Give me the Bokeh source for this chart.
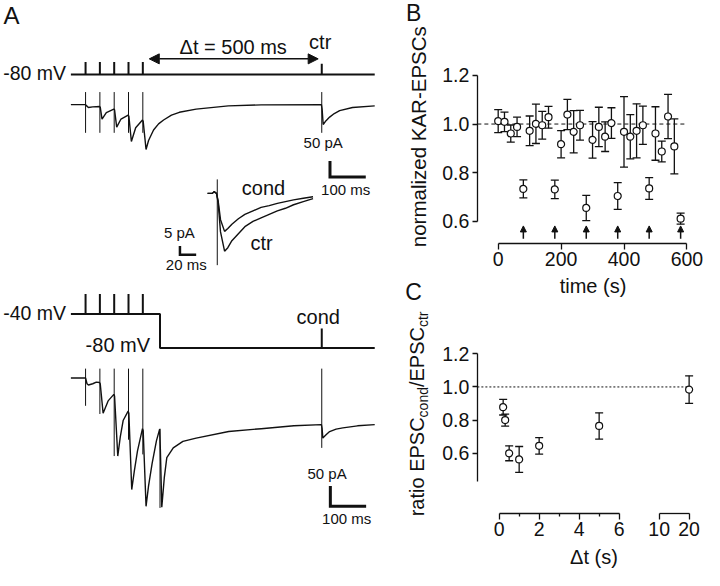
import math
from bokeh.plotting import figure
from bokeh.models import (Range1d, ColumnDataSource, Whisker, TeeHead, Arrow, NormalHead,
                          Label, LinearAxis, FixedTicker, NumeralTickFormatter)
from bokeh.layouts import row, column
from bokeh.embed import file_html
from bokeh.resources import INLINE

# ======================= DATA =======================
# Panel A - stimulation protocol (ms, first pulse of the train = 0)
train_times = [0, 40, 80, 120, 160]
delta_t = 500
test_time = train_times[-1] + delta_t          # ctr / cond test pulse
step_end = 208                                  # end of the -40 mV conditioning step
v_hold = -80
v_cond = -40
trace_start, trace_end = -41, 808

# Panel A - control recording (-80 mV throughout), pA
trace_ctr_t = [-41, 0, 3, 8, 20, 39, 41, 46, 58, 79, 81, 87, 99, 119, 121, 128, 140, 159, 161, 169,
               176, 190, 204, 218, 240, 262, 309, 399, 491, 659, 661, 664, 672, 682, 695, 710, 746, 808]
trace_ctr_i = [0, 0, -4, -9, -7, -6, -8, -45, -25, -14, -16, -70, -45, -33, -36, -115, -72, -48, -52, -140,
               -112, -79, -60, -48, -33, -24, -14, -4, -1, 0, -15, -62, -50, -39, -28, -19, -9, -4]
ctr_artifact_t = train_times + [test_time]
ctr_artifact_top = [39] * 6
ctr_artifact_bottom = [-88] * 6

# Panel A - conditioning recording (train at -40 mV), pA
trace_cond_t = [-41, 0, 4, 8, 20, 30, 39, 41, 49, 63, 79, 81, 90, 97, 105, 119, 121, 129, 136, 145,
                159, 161, 169, 176, 186, 198, 207, 209, 213, 220, 227, 245, 272, 309, 400, 491, 582,
                659, 661, 663, 672, 682, 700, 719, 760, 808]
trace_cond_i = [114, 114, 100, 97, 100, 104, 103, 100, 28, 58, 74, 70, -77, -30, 10, 33, 28, -159, -115, -65,
                -10, -15, -200, -150, -95, -40, -11, -60, -202, -130, -81, -57, -41, -33, -17, -10, -3,
                0, -10, -33, -25, -17, -11, -8, -3, 0]
cond_artifact_t = train_times + [step_end, test_time]
cond_artifact_top = [137, 137, 137, 137, 137, -10, 137]
cond_artifact_bottom = [46, 26, -77, -37, -73, -204, -57]

# Panel A inset - test EPSCs superimposed (ms from test pulse, pA)
inset_t = [-12, -6, -4, -1, 1, 4, 9, 13, 18, 26, 34, 44, 54, 64, 74, 84, 94, 106, 118]
inset_ctr_i = [0, 0, 1, 0, -5, -22, -33, -31, -27, -23, -19, -16, -14, -12, -10, -8.5, -6.5, -4.7, -3]
inset_cond_i = [0, 0, 1, 0, -4, -15, -21.7, -20, -17.6, -14.5, -12, -10, -8, -7, -5.7, -4.7, -3.7, -2.8, -1.9]
inset_artifact = (8, -41)

# Panel B - normalized KAR-EPSCs vs time (s)
b_time = [0, 20, 40, 60, 100, 120, 140, 160, 200, 220, 240, 260, 300, 320, 340, 360,
          400, 420, 440, 460, 500, 520, 540, 560]
b_norm = [1.012, 1.009, 0.961, 0.988, 0.972, 1.001, 0.995, 1.028, 0.917, 1.039, 0.968, 0.995,
          0.935, 0.988, 0.948, 1.004, 0.968, 0.948, 0.972, 0.995, 0.961, 0.887, 1.031, 0.908]
b_sem = [0.047, 0.040, 0.035, 0.040, 0.061, 0.081, 0.057, 0.045, 0.056, 0.062, 0.087, 0.061,
         0.075, 0.081, 0.061, 0.063, 0.145, 0.091, 0.111, 0.079, 0.110, 0.043, 0.091, 0.113]
b_cond_time = [80, 180, 280, 380, 480, 580]
b_cond_norm = [0.733, 0.731, 0.655, 0.704, 0.735, 0.611]
b_cond_sem = [0.037, 0.038, 0.052, 0.055, 0.045, 0.023]
b_xticks = [0, 200, 400, 600]
b_yticks = [0.6, 0.8, 1.0, 1.2]

# Panel C - ratio EPSCcond/EPSCctr vs delta t (s)
c_dt = [0.2, 0.3, 0.5, 1.0, 2.0, 5.0, 20.0]
c_ratio = [0.878, 0.800, 0.600, 0.563, 0.645, 0.765, 0.984]
c_sem = [0.047, 0.036, 0.045, 0.078, 0.050, 0.079, 0.083]
c_xticks = [0, 2, 4, 6]
c_xminor = [1, 3, 5]
c_break_ticks = [10, 20]
c_yticks = [0.6, 0.8, 1.0, 1.2]

# ======================= LAYOUT =======================
INK = "#111111"
FONT = "Liberation Sans"
SX, SY = 704 / 720, 570 / 586
W_A = round(400 * SX)
W_R = 704 - W_A
H_B = round(314.5 * SY)
H_C = 570 - H_B


def cal_range(p_lo, p_hi, px0, v0, k):
    return Range1d(v0 + (p_lo - px0) / k, v0 + (p_hi - px0) / k)


def cal_val(px, px0, v0, k):
    return v0 + (px - px0) / k


def lbl(p, x, y, text, size, align="center", baseline="middle", angle=0.0, xr="default", yr="default"):
    p.add_layout(Label(x=x, y=y, text=text, x_range_name=xr, y_range_name=yr,
                       text_font=FONT, text_font_size=f"{size}px", text_color=INK,
                       text_align=align, text_baseline=baseline, angle=angle))


def panel(width, height, ox, oy, xcal, ycal):
    L, R = ox, ox + width / SX
    T, B = oy, oy + height / SY
    p = figure(width=width, height=height, x_range=cal_range(L, R, *xcal),
               y_range=cal_range(B, T, *ycal), output_backend="svg", toolbar_location=None,
               x_axis_location=None, y_axis_location=None, min_border=0,
               outline_line_color=None)
    p.extra_x_ranges = {"px": Range1d(L, R)}
    p.extra_y_ranges = {"px": Range1d(B, T)}
    p.grid.visible = False
    return p


def make_axis(fixed, bounds, ticks, minor=(), tick_out=5, standoff=3, fmt=None):
    ax = LinearAxis(fixed_location=fixed)
    ax.bounds = bounds
    ax.ticker = FixedTicker(ticks=list(ticks), minor_ticks=list(minor))
    ax.axis_line_color = INK
    ax.axis_line_width = 1.3
    ax.major_tick_line_color = INK
    ax.major_tick_line_width = 1.3
    ax.major_tick_out = tick_out
    ax.major_tick_in = 0
    ax.minor_tick_line_color = INK if minor else None
    ax.minor_tick_line_width = 1.3
    ax.minor_tick_out = 3
    ax.minor_tick_in = 0
    ax.major_label_text_font = FONT
    ax.major_label_text_font_size = "19.5px"
    ax.major_label_text_color = INK
    ax.major_label_standoff = standoff
    if fmt is not None:
        ax.formatter = fmt
    return ax


# ----------------------- Panel A -----------------------
A_REF_W, A_REF_H = W_A / SX, 570 / SY
pa = figure(width=W_A, height=570, x_range=Range1d(0, A_REF_W), y_range=Range1d(A_REF_H, 0),
            x_axis_location=None, y_axis_location=None, toolbar_location=None,
            output_backend="svg", min_border=0, outline_line_color=None)
pa.grid.visible = False
pa.extra_x_ranges = {"t": cal_range(0, A_REF_W, 87, 0, 0.366),
                     "ti": cal_range(0, A_REF_W, 221.7, 0, 0.83)}
pa.extra_y_ranges = {"Itop": cal_range(A_REF_H, 0, 107, 0, -0.33),
                     "Ibot": cal_range(A_REF_H, 0, 436, 0, -0.42),
                     "Iin": cal_range(A_REF_H, 0, 198.3, 0, -1.8),
                     "Vtop": cal_range(A_REF_H, 0, 76, -80, -0.875),
                     "Vbot": cal_range(A_REF_H, 0, 357.3, -80, -0.875)}

# top protocol
pa.line([trace_start, trace_end], [v_hold, v_hold], x_range_name="t", y_range_name="Vtop",
        line_color=INK, line_width=2)
top_marks = [14.5] * len(train_times) + [12.5]
pa.segment(x0=ctr_artifact_t, y0=[v_hold] * 6, x1=ctr_artifact_t,
           y1=[v_hold + m for m in top_marks], x_range_name="t", y_range_name="Vtop",
           line_color=INK, line_width=2)
pa.add_layout(Arrow(start=NormalHead(size=10, fill_color=INK, line_color=INK),
                    end=NormalHead(size=10, fill_color=INK, line_color=INK),
                    x_start=train_times[-1] + 18, x_end=test_time - 10, y_start=60, y_end=60,
                    x_range_name="t", line_color=INK, line_width=1.5))

# top current trace
pa.line(trace_ctr_t, trace_ctr_i, x_range_name="t", y_range_name="Itop", line_color=INK, line_width=1.4)
pa.segment(x0=ctr_artifact_t, y0=ctr_artifact_top, x1=ctr_artifact_t, y1=ctr_artifact_bottom,
           x_range_name="t", y_range_name="Itop", line_color=INK, line_width=1)
pa.line([683, 683, 783], [-176, -226, -226], x_range_name="t", y_range_name="Itop",
        line_color=INK, line_width=3, line_join="miter")

# inset
pa.line(inset_t, inset_ctr_i, x_range_name="ti", y_range_name="Iin", line_color=INK, line_width=1.4)
pa.line(inset_t, inset_cond_i, x_range_name="ti", y_range_name="Iin", line_color=INK, line_width=1.4)
pa.segment(x0=[0], y0=[inset_artifact[0]], x1=[0], y1=[inset_artifact[1]],
           x_range_name="ti", y_range_name="Iin", line_color=INK, line_width=1)
pa.line([-46, -46, -26], [-30, -35, -35], x_range_name="ti", y_range_name="Iin",
        line_color=INK, line_width=2.5, line_join="miter")

# bottom protocol
pa.line([trace_start, step_end, step_end, trace_end], [v_cond, v_cond, v_hold, v_hold],
        x_range_name="t", y_range_name="Vbot", line_color=INK, line_width=2)
pa.segment(x0=train_times, y0=[v_cond] * 5, x1=train_times, y1=[v_cond + 23.5] * 5,
           x_range_name="t", y_range_name="Vbot", line_color=INK, line_width=2)
pa.segment(x0=[test_time], y0=[v_hold], x1=[test_time], y1=[v_hold + 23],
           x_range_name="t", y_range_name="Vbot", line_color=INK, line_width=2)

# bottom current trace
pa.line(trace_cond_t, trace_cond_i, x_range_name="t", y_range_name="Ibot", line_color=INK, line_width=1.4)
pa.segment(x0=cond_artifact_t, y0=cond_artifact_top, x1=cond_artifact_t, y1=cond_artifact_bottom,
           x_range_name="t", y_range_name="Ibot", line_color=INK, line_width=1)
pa.line([684, 684, 784], [-150, -200, -200], x_range_name="t", y_range_name="Ibot",
        line_color=INK, line_width=3, line_join="miter")

# panel A texts (reference-pixel positions, cap centre)
lbl(pa, 3, 15, "A", 24, align="left")
lbl(pa, 67, 75, "-80 mV", 19.5, align="right")
lbl(pa, 238, 47.5, "\u0394t = 500 ms", 20)
lbl(pa, 327, 43, "ctr", 20)
lbl(pa, 330, 146.3, "50 pA", 15)
lbl(pa, 353, 194.6, "100 ms", 15)
lbl(pa, 269, 192.8, "cond", 20)
lbl(pa, 267, 248.8, "ctr", 20)
lbl(pa, 183, 238.6, "5 pA", 15)
lbl(pa, 190, 271.3, "20 ms", 15)
lbl(pa, 67, 321.1, "-40 mV", 19.5, align="right")
lbl(pa, 120, 354.5, "-80 mV", 20)
lbl(pa, 325, 325.5, "cond", 20)
lbl(pa, 334, 486.3, "50 pA", 15)
lbl(pa, 354, 532.9, "100 ms", 15)

# ----------------------- Panel B -----------------------
ORX = W_A / SX
BX, BY = (509, 0, 0.3217), (127, 1.0, -250)
pb = panel(W_R, H_B, ORX, 0, BX, BY)
b_axis_x = cal_val(487.7, *BX)      # y axis position (s)
b_axis_y = cal_val(250, *BY)        # x axis position (ratio)
pb.line([b_axis_x, 593], [1.0, 1.0], line_color=INK, line_width=1, line_dash="4 3")
src_b = ColumnDataSource(dict(x=b_time, y=b_norm,
                              lo=[v - e for v, e in zip(b_norm, b_sem)],
                              hi=[v + e for v, e in zip(b_norm, b_sem)]))
src_bc = ColumnDataSource(dict(x=b_cond_time, y=b_cond_norm,
                               lo=[v - e for v, e in zip(b_cond_norm, b_cond_sem)],
                               hi=[v + e for v, e in zip(b_cond_norm, b_cond_sem)]))
for s in (src_b, src_bc):
    pb.add_layout(Whisker(base="x", lower="lo", upper="hi", source=s, level="underlay",
                          line_color=INK, line_width=1.3,
                          upper_head=TeeHead(size=8, line_color=INK, line_width=1.3),
                          lower_head=TeeHead(size=8, line_color=INK, line_width=1.3)))
    pb.scatter("x", "y", source=s, marker="circle", size=7, fill_color="white",
               line_color=INK, line_width=1.2)
arr_src = ColumnDataSource(dict(x=b_cond_time, y0=[0.528] * 6, y1=[0.581] * 6))
pb.add_layout(Arrow(end=NormalHead(size=6, fill_color=INK, line_color=INK), source=arr_src,
                    x_start="x", y_start="y0", x_end="x", y_end="y1", line_color=INK, line_width=1.5))
pb.add_layout(make_axis(b_axis_y, (0, 600), b_xticks, tick_out=6, standoff=2), "below")
pb.add_layout(make_axis(b_axis_x, (0.6, 1.2), b_yticks, tick_out=5, standoff=3,
                        fmt=NumeralTickFormatter(format="0.0")), "left")
lbl(pb, 422.5, 13, "B", 23, xr="px", yr="px")
lbl(pb, 422.5, 299.5, "C", 23, xr="px", yr="px")
lbl(pb, 606, 293.3, "time (s)", 20, xr="px", yr="px")
lbl(pb, 428, 140, "normalized KAR-EPSCs", 20.5, angle=math.pi / 2, xr="px", yr="px")

# ----------------------- Panel C -----------------------
def dt_pos(d):
    return d if d <= 6 else 8 + (d - 10) * 0.15


CX, CY = (510, 0, 20.45), (397.3, 1.0, -170.5)
pc = panel(W_R, H_C, ORX, H_B / SY, CX, CY)
c_axis_x = cal_val(487.7, *CX)
c_axis_y = cal_val(527.7, *CY)
pc.line([c_axis_x, dt_pos(c_dt[-1])], [1.0, 1.0], line_color=INK, line_width=1, line_dash="2 2")
src_c = ColumnDataSource(dict(x=[dt_pos(d) for d in c_dt], y=c_ratio,
                              lo=[v - e for v, e in zip(c_ratio, c_sem)],
                              hi=[v + e for v, e in zip(c_ratio, c_sem)]))
pc.add_layout(Whisker(base="x", lower="lo", upper="hi", source=src_c, level="underlay",
                      line_color=INK, line_width=1.3,
                      upper_head=TeeHead(size=8, line_color=INK, line_width=1.3),
                      lower_head=TeeHead(size=8, line_color=INK, line_width=1.3)))
pc.scatter("x", "y", source=src_c, marker="circle", size=7, fill_color="white",
           line_color=INK, line_width=1.2)
pc.add_layout(make_axis(c_axis_y, (0, 6), c_xticks, minor=c_xminor, tick_out=6, standoff=2), "below")
brk = make_axis(c_axis_y, (dt_pos(c_break_ticks[0]), dt_pos(c_break_ticks[1])),
                [dt_pos(v) for v in c_break_ticks], tick_out=6, standoff=2)
brk.major_label_overrides = {dt_pos(v): str(v) for v in c_break_ticks}
pc.add_layout(brk, "below")
pc.add_layout(make_axis(c_axis_x, (0.43, 1.2), c_yticks, tick_out=5, standoff=3,
                        fmt=NumeralTickFormatter(format="0.0")), "left")
lbl(pc, 607, 571.8, "\u0394t (s)", 20, xr="px", yr="px")

ADV = {"r": 333, "a": 556, "t": 278, "i": 222, "o": 556, " ": 278, "E": 667, "P": 667,
       "S": 667, "C": 722, "c": 500, "n": 556, "d": 556, "/": 278}


def text_w(s, size):
    return sum(ADV[ch] for ch in s) / 1000 * size


pieces = [("ratio EPSC", 20, False), ("cond", 14, True), ("/EPSC", 20, False), ("ctr", 14, True)]
total_ref = sum(text_w(s, f) for s, f, _ in pieces) / SY
ypos = 425 + total_ref / 2
for s, f, sub in pieces:
    lbl(pc, 426 + (6 if sub else 0), ypos, s, f, align="left", angle=math.pi / 2, xr="px", yr="px")
    ypos -= text_w(s, f) / SY

layout = row(pa, column(pb, pc))
open("out.html", "w").write(file_html(layout, INLINE))
